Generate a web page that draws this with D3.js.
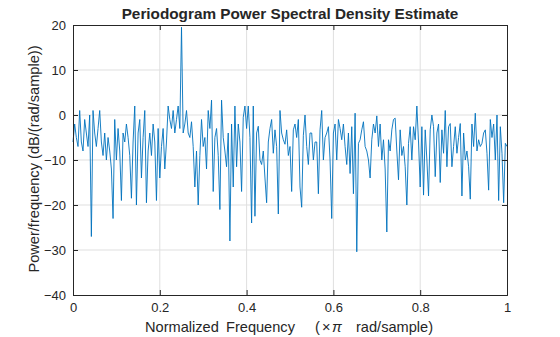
<!DOCTYPE html>
<html>
<head>
<meta charset="utf-8">
<script src="https://cdn.jsdelivr.net/npm/d3@7"></script>
<style>
  body { margin: 0; background: #fff; }
  text { font-family: "Liberation Sans", Arial, sans-serif; fill: #262626; }
</style>
</head>
<body>
<div id="chart"></div>
<script>
// PSD values in dB (frequency step 1/260)
const psd = [
  -6, -2, -5, -7, 1, -6, -8, -1, -4, -7, 0, -27, 1,
  -4, -7, -3, 1, -6, -9, -4, -10, -5, -8, -12, -23, -1,
  -10, -3, -8, -19, -4, -6, -2, -5, -9, -18.5, -6, 2, -20,
  -4, -1, -14, -5, 1, -19.5, -8, -4, -9, -2, -6, -19, -3,
  -14, -7, -3, -12, -6, 2, -1, -3, 1, -4, -1, 2, -3,
  19.5, -4, -2, 1, -4, -5, -1.5, -7, -16, -8, -20, -9, -1,
  -7, -5, -12, 1, -3, 3.3, -17, -5, -3, -9, -21, 3.3, -5,
  -8, -11.5, -4, -28, -2, -16, 2, -11.5, -2, -6, -17, -0.5, 2,
  -3, 2, -5, -24, 2, -22.5, -4, -2.5, -10, -11, -8, -14, -19.5,
  -6, -3, -1, -8.5, -3.3, -7, -22, 1, -4, -5.5, -6.5, -3.3, -9,
  -7, -17, -3.3, -2, -5, -1, -16, -20.5, -4.5, 0, -7, -11, -4,
  -4, -10, -6, -6, -17.5, -3.3, 1, -10, -5, -4, -2.6, -10, -23,
  -4, -2, -10, -1, -3, -5.5, -2, -7, -11, -4, -13, -2.6, -17.5,
  0.4, -30.4, -6.3, -5.5, -3.3, -1.5, -7, -8, -10, -14, -5.5, -2, -4,
  -0.2, -7, -2, -10, -5.5, -12, -26, -5.5, -8, -3.3, -1, -0.7, -8,
  -14.4, -3.3, -9, -7, -11.5, -20, -6.3, -2.6, -10, -2.6, -5.5, 2, -6,
  -16, -2.6, -17.8, -3.3, -10, -18, -3.3, 0, -2.6, -13.7, -4, -2, -15,
  -3.3, -8.5, 1, -11.5, -2.6, -1.9, -11.5, -7, -2.6, -8.5, -5, -1.9, -18,
  -4, -10, -8, -11.5, -18.7, -2, -7, 0.4, -8, -5.5, -7, -6.3, -4,
  -3.3, -8.5, -16.7, -1, -5, -2, -10, 0, -19, -2.6, -8.5, -19.5, -6.3,
  -7
];
const freq = psd.map((d, i) => i / (psd.length - 1));

const xTicks = [0, 0.2, 0.4, 0.6, 0.8, 1];
const yTicks = [-40, -30, -20, -10, 0, 10, 20];

const width = 560, height = 337;
const margin = { top: 25, right: 53, bottom: 42, left: 73 };
const innerW = width - margin.left - margin.right;
const innerH = height - margin.top - margin.bottom;

const svg = d3.select("#chart").append("svg")
  .attr("width", width)
  .attr("height", height);

const g = svg.append("g")
  .attr("transform", `translate(${margin.left},${margin.top})`);

const x = d3.scaleLinear().domain([0, 1]).range([0, innerW]);
const y = d3.scaleLinear().domain([-40, 20]).range([innerH, 0]);

// grid
g.append("g").selectAll("line").data(xTicks.slice(1, -1)).join("line")
  .attr("x1", d => x(d)).attr("x2", d => x(d))
  .attr("y1", 0).attr("y2", innerH)
  .attr("stroke", "#dfdfdf").attr("stroke-width", 1);
g.append("g").selectAll("line").data(yTicks.slice(1, -1)).join("line")
  .attr("y1", d => y(d)).attr("y2", d => y(d))
  .attr("x1", 0).attr("x2", innerW)
  .attr("stroke", "#dfdfdf").attr("stroke-width", 1);

// data line
const line = d3.line().x((d, i) => x(freq[i])).y(d => y(d));
g.append("path")
  .datum(psd)
  .attr("d", line)
  .attr("fill", "none")
  .attr("stroke", "#0072BD")
  .attr("stroke-width", 0.9)
  .attr("stroke-linejoin", "round");

// axes (ticks inward, box on)
const xAxis = d3.axisBottom(x).tickValues(xTicks).tickSize(-5).tickPadding(8)
  .tickFormat(d3.format("~g"));
const yAxis = d3.axisLeft(y).tickValues(yTicks).tickSize(-5).tickPadding(7);

g.append("g").attr("transform", `translate(0,${innerH})`).call(xAxis);
g.append("g").call(yAxis);
g.append("g").call(d3.axisTop(x).tickValues(xTicks).tickSize(-5).tickFormat(""));
g.append("g").attr("transform", `translate(${innerW},0)`)
  .call(d3.axisRight(y).tickValues(yTicks).tickSize(-5).tickFormat(""));

g.selectAll(".domain").attr("stroke", "#262626");
g.selectAll(".tick line").attr("stroke", "#262626");
g.selectAll(".tick text").style("font-size", "13px").attr("fill", "#262626");

// title
svg.append("text")
  .attr("x", margin.left + innerW / 2)
  .attr("y", 19)
  .attr("text-anchor", "middle")
  .style("font-size", "15.3px")
  .style("font-weight", "bold")
  .text("Periodogram Power Spectral Density Estimate");

// x label (TeX-style spacing as in the original)
const xl = svg.append("text")
  .attr("y", 332)
  .style("font-size", "14.6px");
xl.append("tspan").attr("x", 145).text("Normalized");
xl.append("tspan").attr("x", 226).text("Frequency");
xl.append("tspan").attr("x", 315).text("(");
xl.append("tspan").attr("x", 322).text("\u00D7");
xl.append("tspan").attr("x", 332).style("font-style", "italic").text("\u03C0");
xl.append("tspan").attr("x", 356).text("rad/sample)");

// y label
svg.append("text")
  .attr("transform", `translate(39,${margin.top + innerH / 2 - 1}) rotate(-90)`)
  .attr("text-anchor", "middle")
  .style("font-size", "14.6px")
  .text("Power/frequency (dB/(rad/sample))");
</script>
</body>
</html>
